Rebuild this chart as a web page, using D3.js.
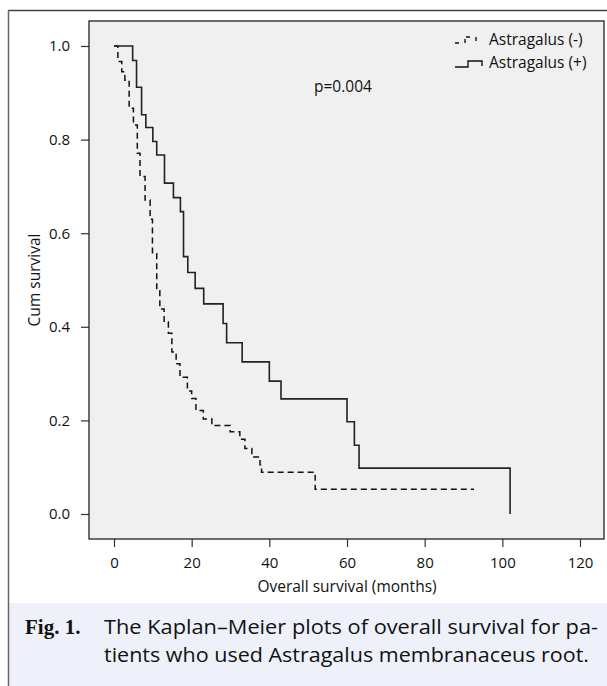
<!DOCTYPE html>
<html>
<head>
<meta charset="utf-8">
<script src="https://cdn.jsdelivr.net/npm/d3@7"></script>
<style>
  body { margin: 0; background: #fff; }
  svg { display: block; font-family: "Open Sans", sans-serif; }
</style>
</head>
<body>
<div id="chart"></div>
<script>
// Kaplan-Meier steps: time (months) and survival after each step
const minusTimes = [0, 1.0, 2.0, 2.8, 3.9, 5.0, 6.0, 6.7, 8.0, 9.3, 9.9, 11.0, 11.8, 12.9, 14.0, 14.9, 16.0, 17.0, 18.9, 20.0, 21.1, 23.0, 25.2, 29.9, 32.4, 33.7, 35.5, 37.6, 38.0, 51.8, 92.7];
const minusSurv = [1.0, 0.967, 0.945, 0.927, 0.867, 0.831, 0.771, 0.721, 0.671, 0.630, 0.556, 0.477, 0.438, 0.410, 0.386, 0.346, 0.321, 0.292, 0.263, 0.247, 0.221, 0.203, 0.189, 0.176, 0.160, 0.140, 0.122, 0.105, 0.089, 0.053, 0.053];

const plusTimes = [0, 4.8, 5.8, 7.1, 8.2, 10.0, 11.0, 13.0, 15.3, 17.1, 17.9, 19.0, 20.9, 23.1, 28.1, 29.0, 33.0, 40.0, 43.0, 60.0, 61.9, 63.1, 102];
const plusSurv = [1.0, 0.969, 0.912, 0.853, 0.826, 0.796, 0.767, 0.707, 0.676, 0.646, 0.550, 0.516, 0.482, 0.449, 0.407, 0.366, 0.325, 0.284, 0.246, 0.197, 0.147, 0.098, 0.0];

const seriesNames = ["Astragalus (-)", "Astragalus (+)"];
const xTicks = [0, 20, 40, 60, 80, 100, 120];
const yTicks = [0, 0.2, 0.4, 0.6, 0.8, 1.0];
const pText = "p=0.004";
const xLabel = "Overall survival (months)";
const yLabel = "Cum survival";
const captionLabel = "Fig. 1.";
const captionLines = [
  "The Kaplan\u2013Meier plots of overall survival for pa-",
  "tients who used Astragalus membranaceus root."
];

const width = 607;
const height = 686;
const plot = { left: 89, right: 604, top: 21, bottom: 539 };

const svg = d3
  .select("#chart")
  .append("svg")
  .attr("width", width)
  .attr("height", height)
  .attr("viewBox", [0, 0, width, height]);

// outer figure frame and caption band
svg.append("rect")
  .attr("x", 9).attr("y", 603)
  .attr("width", width - 9).attr("height", height - 603)
  .attr("fill", "#eef1f9");
svg.append("line")
  .attr("x1", 8).attr("x2", width).attr("y1", 10.5).attr("y2", 10.5)
  .attr("stroke", "#444").attr("stroke-width", 1.3);
svg.append("line")
  .attr("x1", 8.5).attr("x2", 8.5).attr("y1", 10).attr("y2", height)
  .attr("stroke", "#666").attr("stroke-width", 1.5);

const x = d3.scaleLinear().domain([-6.44, 126.18]).range([plot.left, plot.right]);
const y = d3.scaleLinear().domain([-0.0534, 1.0534]).range([plot.bottom, plot.top]);

// plot background
svg.append("rect")
  .attr("x", plot.left).attr("y", plot.top)
  .attr("width", plot.right - plot.left).attr("height", plot.bottom - plot.top)
  .attr("fill", "#f0f0f0");

// axes
svg.append("g")
  .attr("transform", `translate(${plot.left},0)`)
  .call(d3.axisLeft(y).tickValues(yTicks).tickFormat(d3.format(".1f")).tickSize(8).tickPadding(11))
  .call((g) => g.select(".domain").remove())
  .call((g) => g.selectAll(".tick line").attr("stroke", "#333").attr("stroke-width", 1.2))
  .call((g) => g.selectAll("text").attr("font-size", 15).attr("fill", "#111").attr("font-family", "Open Sans"));

svg.append("g")
  .attr("transform", `translate(0,${plot.bottom})`)
  .call(d3.axisBottom(x).tickValues(xTicks).tickSize(8).tickPadding(10))
  .call((g) => g.select(".domain").remove())
  .call((g) => g.selectAll(".tick line").attr("stroke", "#333").attr("stroke-width", 1.2))
  .call((g) => g.selectAll("text").attr("font-size", 15).attr("fill", "#111").attr("font-family", "Open Sans"));

// plot box
svg.append("rect")
  .attr("x", plot.left).attr("y", plot.top)
  .attr("width", plot.right - plot.left).attr("height", plot.bottom - plot.top)
  .attr("fill", "none").attr("stroke", "#222").attr("stroke-width", 1.3);

// survival curves
const line = d3.line()
  .x((d) => x(d[0]))
  .y((d) => y(d[1]))
  .curve(d3.curveStepAfter);

svg.append("path")
  .datum(d3.zip(minusTimes, minusSurv))
  .attr("fill", "none")
  .attr("stroke", "#111")
  .attr("stroke-width", 1.5)
  .attr("stroke-dasharray", "6,4")
  .attr("d", line);

svg.append("path")
  .datum(d3.zip(plusTimes, plusSurv))
  .attr("fill", "none")
  .attr("stroke", "#222")
  .attr("stroke-width", 1.6)
  .attr("d", line);

// legend
const legend = svg.append("g").attr("font-size", 15.5).attr("fill", "#111");
legend.append("path")
  .attr("d", "M455,43 h5 M465,43 v-6 h5 M476,37 v5")
  .attr("fill", "none").attr("stroke", "#111").attr("stroke-width", 1.4)
  .attr("stroke-dasharray", "4,3");
legend.append("path")
  .attr("d", "M455,67 h13 v-6 h14 v5")
  .attr("fill", "none").attr("stroke", "#111").attr("stroke-width", 1.4);
legend.selectAll("text")
  .data(seriesNames)
  .join("text")
  .attr("x", 489)
  .attr("y", (d, i) => 45 + i * 23)
  .text((d) => d);

svg.append("text")
  .attr("x", 314).attr("y", 92)
  .attr("font-size", 15.5).attr("fill", "#111")
  .text(pText);

// axis titles
svg.append("text")
  .attr("x", x(60)).attr("y", 592)
  .attr("text-anchor", "middle")
  .attr("font-size", 15.5).attr("fill", "#111")
  .text(xLabel);

svg.append("text")
  .attr("transform", `translate(40,${y(0.5)}) rotate(-90)`)
  .attr("text-anchor", "middle")
  .attr("font-size", 15.5).attr("fill", "#111")
  .text(yLabel);

// caption
svg.append("text")
  .attr("x", 25).attr("y", 634)
  .attr("font-family", "Liberation Serif, serif")
  .attr("font-weight", "bold")
  .attr("font-size", 21)
  .attr("fill", "#111")
  .text(captionLabel);

const capWidths = [494, 485];
svg.append("g")
  .selectAll("text")
  .data(captionLines)
  .join("text")
  .attr("x", 104)
  .attr("y", (d, i) => 634 + i * 28)
  .attr("font-size", 20)
  .attr("fill", "#111")
  .attr("textLength", (d, i) => capWidths[i])
  .attr("lengthAdjust", "spacingAndGlyphs")
  .text((d) => d);
</script>
</body>
</html>
